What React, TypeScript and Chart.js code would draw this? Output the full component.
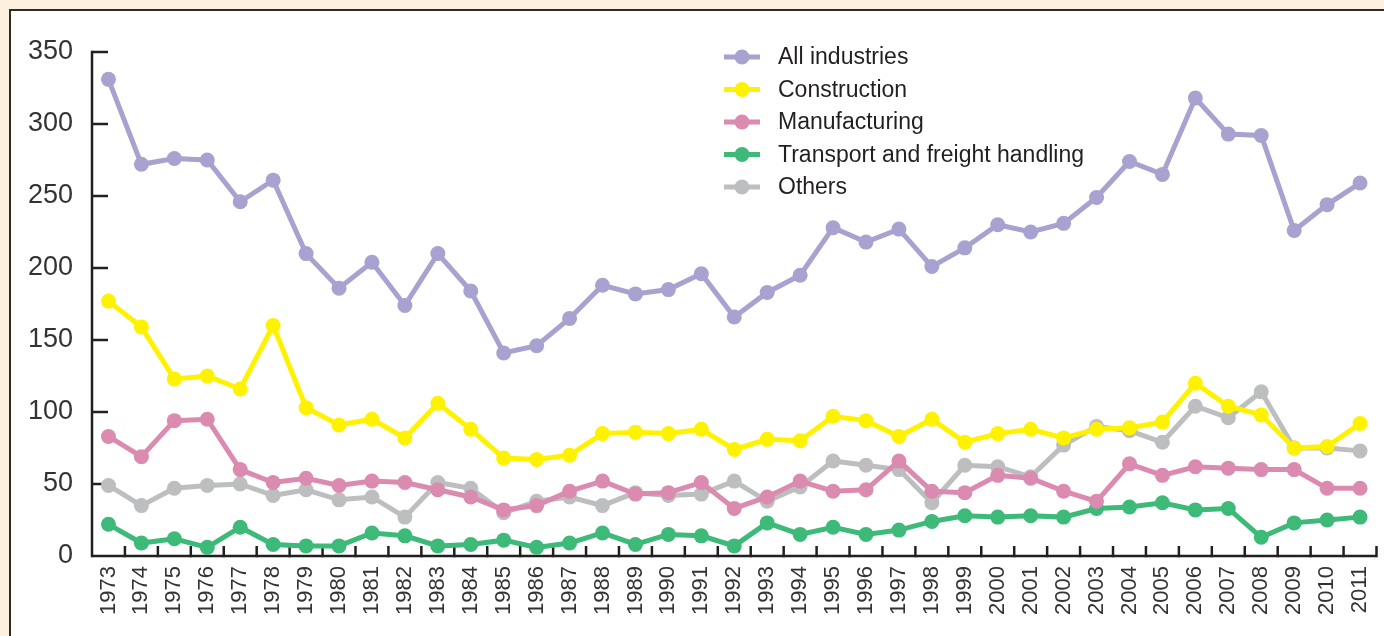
import { useEffect, useRef } from "react";
import { Chart, registerables } from "chart.js";

Chart.register(...registerables);

const years = [
  "1973", "1974", "1975", "1976", "1977", "1978", "1979", "1980", "1981", "1982",
  "1983", "1984", "1985", "1986", "1987", "1988", "1989", "1990", "1991", "1992",
  "1993", "1994", "1995", "1996", "1997", "1998", "1999", "2000", "2001", "2002",
  "2003", "2004", "2005", "2006", "2007", "2008", "2009", "2010", "2011",
];

const allIndustries = [
  331, 272, 276, 275, 246, 261, 210, 186, 204, 174,
  210, 184, 141, 146, 165, 188, 182, 185, 196, 166,
  183, 195, 228, 218, 227, 201, 214, 230, 225, 231,
  249, 274, 265, 318, 293, 292, 226, 244, 259,
];

const construction = [
  177, 159, 123, 125, 116, 160, 103, 91, 95, 82,
  106, 88, 68, 67, 70, 85, 86, 85, 88, 74,
  81, 80, 97, 94, 83, 95, 79, 85, 88, 82,
  88, 89, 93, 120, 104, 98, 75, 76, 92,
];

const manufacturing = [
  83, 69, 94, 95, 60, 51, 54, 49, 52, 51,
  46, 41, 32, 35, 45, 52, 43, 44, 51, 33,
  41, 52, 45, 46, 66, 45, 44, 56, 54, 45,
  38, 64, 56, 62, 61, 60, 60, 47, 47,
];

const transport = [
  22, 9, 12, 6, 20, 8, 7, 7, 16, 14,
  7, 8, 11, 6, 9, 16, 8, 15, 14, 7,
  23, 15, 20, 15, 18, 24, 28, 27, 28, 27,
  33, 34, 37, 32, 33, 13, 23, 25, 27,
];

const others = [
  49, 35, 47, 49, 50, 42, 46, 39, 41, 27,
  51, 47, 30, 38, 41, 35, 44, 42, 43, 52,
  38, 48, 66, 63, 60, 37, 63, 62, 55, 77,
  90, 87, 79, 104, 96, 114, 75, 75, 73,
];

const seriesNames = [
  "All industries",
  "Construction",
  "Manufacturing",
  "Transport and freight handling",
  "Others",
];
const seriesColors = ["#a7a2d0", "#fff200", "#db8ab0", "#3dba78", "#bcbec0"];
const seriesData = [allIndustries, construction, manufacturing, transport, others];

const yTicks = { min: 0, max: 350, step: 50 };

const FONT = "'Liberation Sans', Arial, Helvetica, sans-serif";
const INK = "#231f20";

const axesPlugin = {
  id: "customAxes",
  beforeDatasetsDraw(chart: any) {
    const ctx = chart.ctx;
    const x = chart.scales.x;
    const y = chart.scales.y;
    const area = chart.chartArea;
    ctx.save();
    ctx.strokeStyle = INK;
    ctx.lineWidth = 2.5;
    ctx.lineCap = "butt";
    const y0 = y.getPixelForValue(yTicks.min);
    const yTop = y.getPixelForValue(yTicks.max);
    ctx.beginPath();
    ctx.moveTo(area.left, yTop - 1.25);
    ctx.lineTo(area.left, y0 + 1.25);
    ctx.stroke();
    ctx.beginPath();
    ctx.moveTo(area.left, y0);
    ctx.lineTo(area.right, y0);
    ctx.stroke();
    for (let v = yTicks.min + yTicks.step; v <= yTicks.max; v += yTicks.step) {
      const py = y.getPixelForValue(v);
      ctx.beginPath();
      ctx.moveTo(area.left, py);
      ctx.lineTo(area.left + 16, py);
      ctx.stroke();
    }
    const n = years.length;
    for (let i = 1; i <= n; i++) {
      const a = x.getPixelForValue(i - 1);
      const half = i < n ? (x.getPixelForValue(i) - a) / 2 : (a - x.getPixelForValue(i - 2)) / 2;
      const px = a + half;
      ctx.beginPath();
      ctx.moveTo(px, y0 + 1.25);
      ctx.lineTo(px, y0 - 10);
      ctx.stroke();
    }
    ctx.restore();
  },
};

const legendPlugin = {
  id: "customLegend",
  afterDraw(chart: any) {
    const ctx = chart.ctx;
    ctx.save();
    const x0 = 724;
    const x1 = 760;
    const cx = 742;
    const tx = 778;
    const rows = [57, 89.5, 122, 154.5, 187];
    ctx.font = `23px ${FONT}`;
    ctx.textBaseline = "middle";
    ctx.textAlign = "left";
    seriesNames.forEach((name, i) => {
      const ry = rows[i];
      ctx.strokeStyle = seriesColors[i];
      ctx.lineWidth = 5;
      ctx.beginPath();
      ctx.moveTo(x0, ry);
      ctx.lineTo(x1, ry);
      ctx.stroke();
      ctx.fillStyle = seriesColors[i];
      ctx.beginPath();
      ctx.arc(cx, ry, 7.5, 0, Math.PI * 2);
      ctx.fill();
      ctx.fillStyle = "#231f20";
      ctx.fillText(name, tx, ry + 1);
    });
    ctx.restore();
  },
};

export default function App() {
  const canvasRef = useRef<HTMLCanvasElement | null>(null);

  useEffect(() => {
    const canvas = canvasRef.current;
    if (!canvas) return;
    const chart = new Chart(canvas, {
      type: "line",
      data: {
        labels: years,
        datasets: seriesNames.map((name, i) => ({
          label: name,
          data: seriesData[i],
          borderColor: seriesColors[i],
          backgroundColor: seriesColors[i],
          pointBackgroundColor: seriesColors[i],
          pointBorderColor: seriesColors[i],
          borderWidth: 5,
          pointRadius: 7.5,
          pointBorderWidth: 0,
          tension: 0,
          fill: false,
        })),
      },
      options: {
        responsive: false,
        animation: false,
        devicePixelRatio: 1,
        layout: { padding: { top: 52, right: 6.5, left: 0, bottom: 0 } },
        plugins: {
          legend: { display: false },
          tooltip: { enabled: false },
        },
        scales: {
          x: {
            type: "category",
            offset: true,
            grid: { display: false, drawTicks: false },
            border: { display: false },
            ticks: {
              autoSkip: false,
              maxRotation: 90,
              minRotation: 90,
              padding: 10,
              color: "#333333",
              font: { family: FONT, size: 22 },
            },
            afterFit(scale: any) {
              scale.height = 80;
              scale.paddingLeft = 0;
              scale.paddingRight = 0;
            },
          },
          y: {
            min: yTicks.min,
            max: yTicks.max,
            grid: { display: false, drawTicks: false },
            border: { display: false },
            ticks: {
              stepSize: yTicks.step,
              padding: 19,
              color: "#333333",
              font: { family: FONT, size: 27 },
            },
            afterFit(scale: any) {
              scale.width = 92;
              scale.paddingTop = 0;
              scale.paddingBottom = 0;
            },
          },
        },
      },
      plugins: [axesPlugin, legendPlugin],
    });
    return () => chart.destroy();
  }, []);

  return (
    <div
      style={{
        position: "fixed",
        left: 0,
        top: 0,
        width: 1384,
        height: 636,
        background: "#fdf0de",
        overflow: "hidden",
      }}
    >
      <div
        style={{
          position: "absolute",
          left: 9,
          top: 9,
          width: 1400,
          height: 700,
          background: "#ffffff",
          borderTop: "2px solid #2b2b2b",
          borderLeft: "2px solid #2b2b2b",
        }}
      />
      <canvas
        ref={canvasRef}
        width={1384}
        height={636}
        style={{ position: "absolute", left: 0, top: 0, width: 1384, height: 636 }}
      />
    </div>
  );
}
